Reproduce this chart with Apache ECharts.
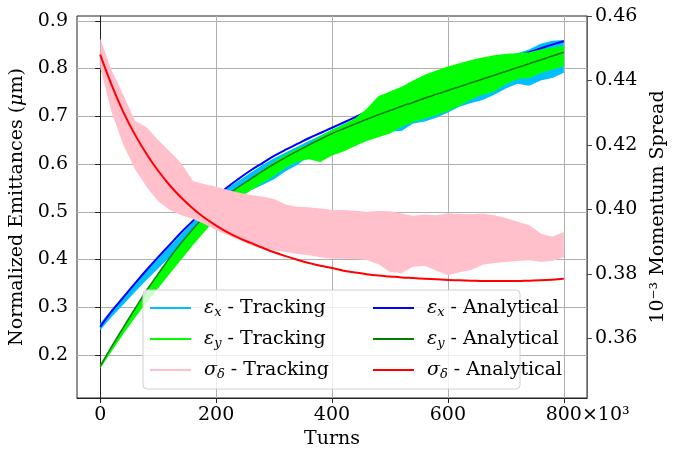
<!DOCTYPE html>
<html>
<head>
<meta charset="utf-8">
<title>Emittance and momentum spread</title>
<script src="https://cdn.jsdelivr.net/npm/echarts@6/dist/echarts.min.js"></script>
<style>
  html, body { margin: 0; padding: 0; background: #fff; }
  #chart { width: 678px; height: 449px; }
</style>
</head>
<body>
<div id="chart"></div>
<script>
// turns, in units of 10^3
const turns = [0, 20, 40, 60, 80, 100, 120, 140, 160, 180, 200, 220, 240, 260, 280, 300, 320, 340, 360, 380,
  400, 420, 440, 460, 480, 500, 520, 540, 560, 580, 600, 620, 640, 660, 680, 700, 720, 740, 760, 780, 800];

// tracking: lower / upper envelope of the noisy trace
const exTrackLow = [.252, .280, .306, .332, .357, .381, .405, .428, .450, .472, .492, .512, .530, .545, .556, .568, .585, .598, .617, .625,
  .632, .638, .645, .654, .661, .668, .669, .685, .689, .697, .708, .720, .728, .734, .745, .758, .768, .764, .775, .780, .791];
const exTrackHigh = [.266, .296, .322, .350, .377, .402, .428, .453, .478, .503, .528, .550, .566, .582, .598, .612, .624, .636, .648, .660,
  .672, .684, .694, .705, .716, .726, .736, .745, .756, .768, .780, .790, .800, .808, .816, .825, .832, .840, .852, .858, .860];
const eyTrackLow = [.172, .208, .244, .278, .310, .340, .370, .400, .430, .458, .486, .512, .530, .545, .560, .575, .592, .605, .610, .604,
  .618, .626, .638, .648, .656, .664, .678, .688, .695, .702, .711, .722, .735, .745, .752, .767, .778, .780, .790, .798, .805];
const eyTrackHigh = [.180, .220, .260, .298, .336, .371, .405, .436, .465, .490, .514, .535, .553, .570, .588, .605, .620, .632, .642, .658,
  .672, .683, .696, .716, .742, .752, .762, .775, .787, .796, .804, .811, .818, .823, .828, .831, .832, .834, .840, .844, .847];
const sdTrackLow = [.4440, .4300, .4200, .4125, .4070, .4025, .3998, .3982, .3970, .3955, .3935, .3920, .3905, .3889, .3880, .3873, .3868, .3862, .3858, .3852,
  .3847, .3847, .3846, .3843, .3830, .3806, .3803, .3822, .3825, .3810, .3796, .3805, .3812, .3828, .3834, .3837, .3840, .3842, .3838, .3840, .3852];
const sdTrackHigh = [.4530, .4430, .4355, .4275, .4255, .4215, .4180, .4143, .4088, .4078, .4070, .4060, .4052, .4045, .4040, .4032, .4015, .4008, .4007, .4003,
  .3998, .3998, .3996, .3993, .3995, .3994, .3987, .3980, .3984, .3982, .3988, .3986, .3985, .3987, .3982, .3973, .3962, .3952, .3925, .3915, .3930];

// analytical
const exAnalytical = [.259, .292, .321, .350, .378, .405, .431, .457, .481, .507, .532, .552, .570, .587, .602, .617, .630, .642, .654, .665,
  .676, .687, .698, .709, .719, .729, .739, .748, .758, .767, .776, .785, .794, .802, .810, .818, .826, .834, .842, .850, .857];
const eyAnalytical = [.176, .218, .258, .297, .335, .370, .404, .435, .464, .490, .514, .535, .553, .569, .585, .600, .614, .627, .640, .652,
  .664, .674, .684, .694, .703, .712, .721, .729, .738, .746, .754, .762, .770, .778, .786, .794, .802, .810, .818, .826, .834];
const sdAnalytical = [.4480, .4385, .4302, .4232, .4172, .4120, .4075, .4036, .4003, .3974, .3950, .3929, .3911, .3896, .3881, .3867, .3855, .3844, .3834, .3825,
  .3818, .3810, .3804, .3799, .3795, .3792, .3789, .3787, .3785, .3783, .3781, .3780, .3779, .3778, .3778, .3778, .3778, .3779, .3780, .3782, .3785];

const xTicks = [0, 200, 400, 600, 800];
const leftTicks = [0.2, 0.3, 0.4, 0.5, 0.6, 0.7, 0.8, 0.9];
const rightTicks = [0.36, 0.38, 0.40, 0.42, 0.44, 0.46];

const FONT = 'DejaVu Serif';
const FS = 19;
const pairs = ys => turns.map((t, i) => [t, ys[i]]);

// filled envelope between lo and hi, drawn as one polygon through the axis scales
function band(name, lo, hi, color, axis, z) {
  return {
    name: name, type: 'custom', yAxisIndex: axis, silent: true, clip: true, z: z,
    color: color, itemStyle: { color: color },
    data: turns.map((t, i) => [t, lo[i], hi[i]]),
    encode: { x: 0, y: [1, 2] },
    renderItem: (params, api) => {
      if (params.dataIndex !== 0) return null;
      const top = turns.map((t, i) => api.coord([t, hi[i]]));
      const bottom = turns.map((t, i) => api.coord([t, lo[i]])).reverse();
      return { type: 'polygon', silent: true, shape: { points: top.concat(bottom) }, style: { fill: color, stroke: null } };
    }
  };
}

function curve(name, ys, color, axis, width, z) {
  return {
    name: name, type: 'line', yAxisIndex: axis, data: pairs(ys), symbol: 'none', silent: true, z: z,
    smooth: 0.4,
    color: color, itemStyle: { color: color }, lineStyle: { color: color, width: width }
  };
}

const richLegend = {
  g: { fontFamily: FONT, fontStyle: 'italic', fontSize: FS, lineHeight: 22, color: '#000' },
  s: { fontFamily: FONT, fontStyle: 'italic', fontSize: 13, lineHeight: 22, padding: [9, 0, 0, 0], color: '#000' },
  t: { fontFamily: FONT, fontSize: FS, lineHeight: 22, color: '#000' }
};
const legendLabel = {
  'εx - Tracking': '{g|ε}{s|x}{t| - Tracking}',
  'εy - Tracking': '{g|ε}{s|y}{t| - Tracking}',
  'σδ - Tracking': '{g|σ}{s|δ}{t| - Tracking}',
  'εx - Analytical': '{g|ε}{s|x}{t| - Analytical}',
  'εy - Analytical': '{g|ε}{s|y}{t| - Analytical}',
  'σδ - Analytical': '{g|σ}{s|δ}{t| - Analytical}'
};
const legendColors = {
  'εx - Tracking': '#00BFFF', 'εy - Tracking': '#00FF00', 'σδ - Tracking': '#FFC0CB',
  'εx - Analytical': '#0000FF', 'εy - Analytical': '#008000', 'σδ - Analytical': '#FF0000'
};
const legendItems = names => names.map(n => ({ name: n, icon: 'rect', itemStyle: { color: legendColors[n], borderWidth: 0 } }));

const legendBase = {
  orient: 'vertical',
  top: 290,
  z: 20,
  itemWidth: 41,
  itemHeight: 2,
  itemGap: 9,
  selectedMode: false,
  formatter: n => legendLabel[n],
  textStyle: { fontFamily: FONT, fontSize: FS, lineHeight: 22, color: '#000', padding: [0, 0, 0, 8], rich: richLegend }
};

const chart = echarts.init(document.getElementById('chart'), null, { renderer: 'canvas' });
chart.setOption({
  animation: false,
  backgroundColor: '#fff',
  textStyle: { fontFamily: FONT },
  grid: {
    left: 77, right: 91, top: 16, bottom: 51, outerBoundsMode: 'none', containLabel: false,
    show: true, borderColor: '#222', borderWidth: 1, backgroundColor: 'transparent'
  },
  legend: [
    Object.assign({}, legendBase, {
      left: 143,
      padding: [7, 191, 8, 7],
      backgroundColor: 'rgba(255,255,255,0.8)',
      borderColor: '#d0d0d0',
      borderWidth: 1,
      borderRadius: 4,
      data: legendItems(['εx - Tracking', 'εy - Tracking', 'σδ - Tracking'])
    }),
    Object.assign({}, legendBase, {
      left: 366,
      z: 21,
      padding: [7, 0, 8, 7],
      data: legendItems(['εx - Analytical', 'εy - Analytical', 'σδ - Analytical'])
    })
  ],
  xAxis: {
    type: 'value', min: -40, max: 840,
    name: 'Turns', nameLocation: 'middle', nameGap: 31,
    nameTextStyle: { fontFamily: FONT, fontSize: FS, color: '#000' },
    axisLine: { show: true, lineStyle: { color: '#222', width: 1 } },
    axisTick: { show: true, inside: false, length: 5, customValues: xTicks, lineStyle: { color: '#222' } },
    axisLabel: {
      customValues: xTicks, margin: 8, fontFamily: FONT, fontSize: FS, color: '#000',
      formatter: v => v === 800 ? '{h|×10³}800×10³' : String(v),
      rich: { h: { color: 'transparent', fontFamily: FONT, fontSize: FS } }
    },
    splitLine: { show: true, lineStyle: { color: '#b0b0b0', width: 1 } }
  },
  yAxis: [
    {
      type: 'value', min: 0.11, max: 0.91, position: 'left',
      name: '{n|Normalized Emittances (}{i|μ}{n|m)}', nameLocation: 'middle', nameGap: 40,
      nameTextStyle: {
        fontFamily: FONT, fontSize: FS, color: '#000',
        rich: { n: { fontFamily: FONT, fontSize: FS, color: '#000' }, i: { fontFamily: FONT, fontStyle: 'italic', fontSize: FS, color: '#000' } }
      },
      axisLine: { show: true, lineStyle: { color: '#222', width: 1 } },
      axisTick: { show: true, inside: false, length: 5, customValues: leftTicks, lineStyle: { color: '#222' } },
      axisLabel: { customValues: leftTicks, margin: 9, fontFamily: FONT, fontSize: FS, color: '#000', formatter: v => v.toFixed(1) },
      splitLine: { show: true, lineStyle: { color: '#b0b0b0', width: 1 } }
    },
    {
      type: 'value', min: 0.3415, max: 0.46, position: 'right',
      name: '10⁻³ Momentum Spread', nameLocation: 'middle', nameGap: 55,
      nameTextStyle: { fontFamily: FONT, fontSize: FS, color: '#000' },
      axisLine: { show: true, lineStyle: { color: '#666', width: 1 } },
      axisTick: { show: true, inside: false, length: 5, customValues: rightTicks, lineStyle: { color: '#444' } },
      axisLabel: { customValues: rightTicks, margin: 8, fontFamily: FONT, fontSize: FS, color: '#000', formatter: v => v.toFixed(2) },
      splitLine: { show: false }
    }
  ],
  series: [
    band('εx - Tracking', exTrackLow, exTrackHigh, '#00BFFF', 0, 2),
    curve('εx - Analytical', exAnalytical, '#0000FF', 0, 2, 3),
    band('εy - Tracking', eyTrackLow, eyTrackHigh, '#00FF00', 0, 4),
    curve('εy - Analytical', eyAnalytical, '#1f7a1f', 0, 1.6, 5),
    band('σδ - Tracking', sdTrackLow, sdTrackHigh, '#FFC0CB', 1, 6),
    curve('σδ - Analytical', sdAnalytical, '#FF0000', 1, 2, 7)
  ]
});
</script>
</body>
</html>
